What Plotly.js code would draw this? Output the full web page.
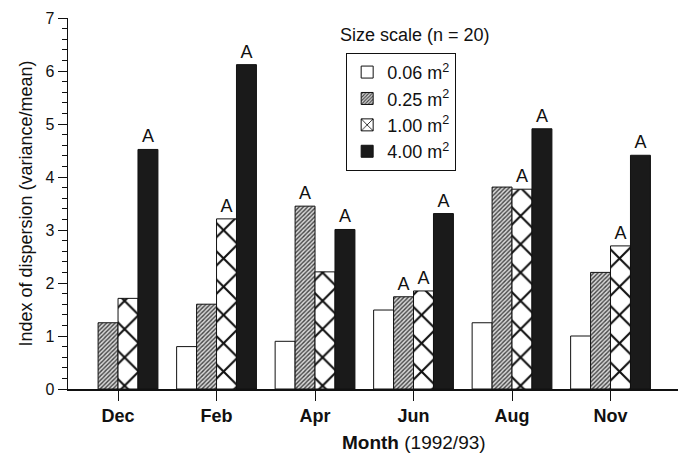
<!DOCTYPE html>
<html>
<head>
<meta charset="utf-8">
<script src="https://cdn.plot.ly/plotly-3.0.1.min.js"></script>
<style>html,body{margin:0;padding:0;background:#fff;}#chart{width:678px;height:458px;}</style>
</head>
<body>
<div id="chart"></div>
<script>
var months = ['Dec', 'Feb', 'Apr', 'Jun', 'Aug', 'Nov'];
var seriesNames = ['0.06 m<sup>2</sup>', '0.25 m<sup>2</sup>', '1.00 m<sup>2</sup>', '4.00 m<sup>2</sup>'];
var v006 = [null, 0.80, 0.90, 1.49, 1.25, 1.00];
var v025 = [1.25, 1.60, 3.45, 1.74, 3.81, 2.20];
var v100 = [1.71, 3.21, 2.21, 1.85, 3.77, 2.70];
var v400 = [4.52, 6.12, 3.01, 3.31, 4.91, 4.41];
var sig006 = ['', '', '', '', '', ''];
var sig025 = ['', '', 'A', 'A', '', ''];
var sig100 = ['', 'A', '', 'A', 'A', 'A'];
var sig400 = ['A', 'A', 'A', 'A', 'A', 'A'];

var FONT = 'Liberation Sans, Arial, Helvetica, sans-serif';
var line = {color: '#111', width: 1};
function mk(name, y, txt, marker) {
  return {
    type: 'bar', name: name, x: months, y: y, text: txt,
    textposition: 'outside', constraintext: 'none', cliponaxis: false,
    textfont: {family: FONT, size: 18, color: '#111'},
    marker: marker, hoverinfo: 'y'
  };
}
var traces = [
  mk(seriesNames[0], v006, sig006, {color: '#fff', line: line}),
  mk(seriesNames[1], v025, sig025, {color: '#bbb', line: line,
     pattern: {shape: '/', size: 3, solidity: 0.45, fgcolor: '#444', bgcolor: '#d8d8d8', fillmode: 'replace'}}),
  mk(seriesNames[2], v100, sig100, {color: '#fff', line: line,
     pattern: {shape: 'x', size: 20, solidity: 0.2, fgcolor: '#111', bgcolor: '#fff', fillmode: 'replace'}}),
  mk(seriesNames[3], v400, sig400, {color: '#1a1a1a', line: line})
];

var layout = {
  width: 678, height: 458,
  margin: {l: 68, r: 0, t: 18, b: 69},
  paper_bgcolor: '#fff', plot_bgcolor: '#fff',
  font: {family: FONT, size: 16, color: '#111'},
  barmode: 'group', bargap: 0.19, bargroupgap: 0,
  showlegend: true,
  legend: {
    x: 0.456, y: 0.906, xanchor: 'left', yanchor: 'top',
    bordercolor: '#111', borderwidth: 1, bgcolor: '#fff',
    font: {family: FONT, size: 18, color: '#111'},
    tracegroupgap: 0, itemwidth: 30
  },
  xaxis: {
    type: 'category', range: [-0.508, 5.685],
    showline: true, linecolor: '#111', linewidth: 1.5,
    ticks: 'outside', ticklen: 10, tickwidth: 1, tickcolor: '#111',
    showgrid: false, zeroline: false,
    tickfont: {family: FONT, size: 18, color: '#111', weight: 'bold'}
  },
  yaxis: {
    range: [0, 7], dtick: 1, tick0: 0,
    showline: true, linecolor: '#111', linewidth: 1.5,
    ticks: 'outside', ticklen: 9, tickwidth: 1, tickcolor: '#111',
    minor: {dtick: 0.2, ticks: 'outside', ticklen: 5, tickcolor: '#111', tickwidth: 1, showgrid: false},
    showgrid: false, zeroline: false,
    tickfont: {family: FONT, size: 16, color: '#111'},
    title: {text: 'Index of dispersion (variance/mean)', font: {family: FONT, size: 18, color: '#111'}, standoff: 8}
  },
  annotations: [
    {text: 'Size scale (n = 20)', xref: 'paper', yref: 'paper', x: 0.569, y: 0.954,
     xanchor: 'center', yanchor: 'middle', showarrow: false,
     font: {family: FONT, size: 18, color: '#111'}},
    {text: '<b>Month</b> (1992/93)', xref: 'paper', yref: 'paper', x: 0.568, y: -0.143,
     xanchor: 'center', yanchor: 'middle', showarrow: false,
     font: {family: FONT, size: 19, color: '#111'}}
  ]
};
Plotly.newPlot('chart', traces, layout, {staticPlot: true, displayModeBar: false});
</script>
</body>
</html>
